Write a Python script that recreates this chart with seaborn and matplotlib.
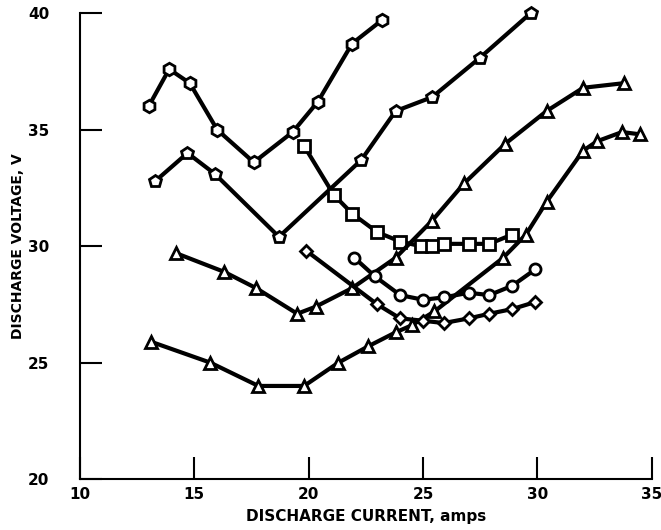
import pandas as pd
import numpy as np
import matplotlib
matplotlib.use("Agg")
import matplotlib.pyplot as plt
import seaborn as sns

# valeurs (courant en A, tension en V)
u_current = [13.0, 13.9, 14.8, 16.0, 17.6, 19.3, 20.4, 21.9, 23.2]
u_voltage = [36.0, 37.6, 37.0, 35.0, 33.6, 34.9, 36.2, 38.7, 39.7]

d_current = [13.3, 14.7, 15.9, 18.7, 22.3, 23.8, 25.4, 27.5, 29.7]
d_voltage = [32.8, 34.0, 33.1, 30.4, 33.7, 35.8, 36.4, 38.1, 40.0]

sq_current = [19.8, 21.1, 21.9, 23.0, 24.0, 24.9, 25.4, 25.9, 27.0, 27.9, 28.9]
sq_voltage = [34.3, 32.2, 31.4, 30.6, 30.2, 30.0, 30.0, 30.1, 30.1, 30.1, 30.5]

t1_current = [14.2, 16.3, 17.7, 19.5, 20.3, 21.9, 23.8, 25.4, 26.8, 28.6, 30.4, 32.0, 33.8]
t1_voltage = [29.7, 28.9, 28.2, 27.1, 27.4, 28.2, 29.5, 31.1, 32.7, 34.4, 35.8, 36.8, 37.0]

t2_current = [13.1, 15.7, 17.8, 19.8, 21.3, 22.6, 23.8, 24.5, 25.5, 28.5, 29.5, 30.4, 32.0, 32.6, 33.7, 34.5]
t2_voltage = [25.9, 25.0, 24.0, 24.0, 25.0, 25.7, 26.3, 26.6, 27.2, 29.5, 30.5, 31.9, 34.1, 34.5, 34.9, 34.8]

c1_current = [22.0, 22.9, 24.0, 25.0, 25.9, 27.0, 27.9, 28.9, 29.9]
c1_voltage = [29.5, 28.7, 27.9, 27.7, 27.8, 28.0, 27.9, 28.3, 29.0]

c2_current = [19.9, 23.0, 24.0, 25.0, 25.9, 27.0, 27.9, 28.9, 29.9]
c2_voltage = [29.8, 27.5, 26.9, 26.8, 26.7, 26.9, 27.1, 27.3, 27.6]

series = {
    "u": (u_current, u_voltage, "h"),
    "d": (d_current, d_voltage, "p"),
    "sq": (sq_current, sq_voltage, "s"),
    "t1": (t1_current, t1_voltage, "^"),
    "t2": (t2_current, t2_voltage, "^"),
    "c1": (c1_current, c1_voltage, "o"),
    "c2": (c2_current, c2_voltage, "D"),
}

frames = []
for nom, (x, y, m) in series.items():
    frames.append(pd.DataFrame({"current": x, "voltage": y, "curve": nom}))
data = pd.concat(frames, ignore_index=True)

sns.set_style("ticks")
plt.rcParams["font.family"] = ["Liberation Sans Narrow", "DejaVu Sans"]
plt.rcParams["font.weight"] = "bold"
for k in ["text.color", "axes.labelcolor", "axes.edgecolor", "xtick.color", "ytick.color"]:
    plt.rcParams[k] = "black"

fig = plt.figure(figsize=(6.61, 5.30), dpi=100)
ax = fig.add_axes([0.121, 0.096, 0.865, 0.879])

markers = {nom: v[2] for nom, v in series.items()}
sns.lineplot(
    data=data, x="current", y="voltage", hue="curve", style="curve",
    markers=markers, dashes=False, sort=False, estimator=None,
    palette=["black"] * len(series), linewidth=3,
    markersize=8, markerfacecolor="white", markeredgecolor="black",
    markeredgewidth=2, legend=False, ax=ax, clip_on=False,
)
# losanges un peu plus petits, comme sur l'original
for ligne in ax.lines:
    if ligne.get_marker() == "D":
        ligne.set_markersize(6.5)
    if ligne.get_marker() in ("h", "p"):
        ligne.set_markersize(9)

ax.set_xlim(10, 35)
ax.set_ylim(20, 40)
ax.set_xticks([10, 15, 20, 25, 30, 35])
ax.set_yticks([20, 25, 30, 35, 40])
ax.tick_params(direction="in", length=16, width=1.5, labelsize=11, pad=6)
ax.tick_params(axis="y", pad=22)
sns.despine(ax=ax)
for s in ["left", "bottom"]:
    ax.spines[s].set_linewidth(1.5)

ax.set_xlabel("DISCHARGE CURRENT, amps", fontsize=11, fontweight="bold", labelpad=5)
ax.set_ylabel("DISCHARGE VOLTAGE, V", fontsize=10, fontweight="bold", labelpad=2)

plt.savefig("out.png", dpi=100)
plt.close()
